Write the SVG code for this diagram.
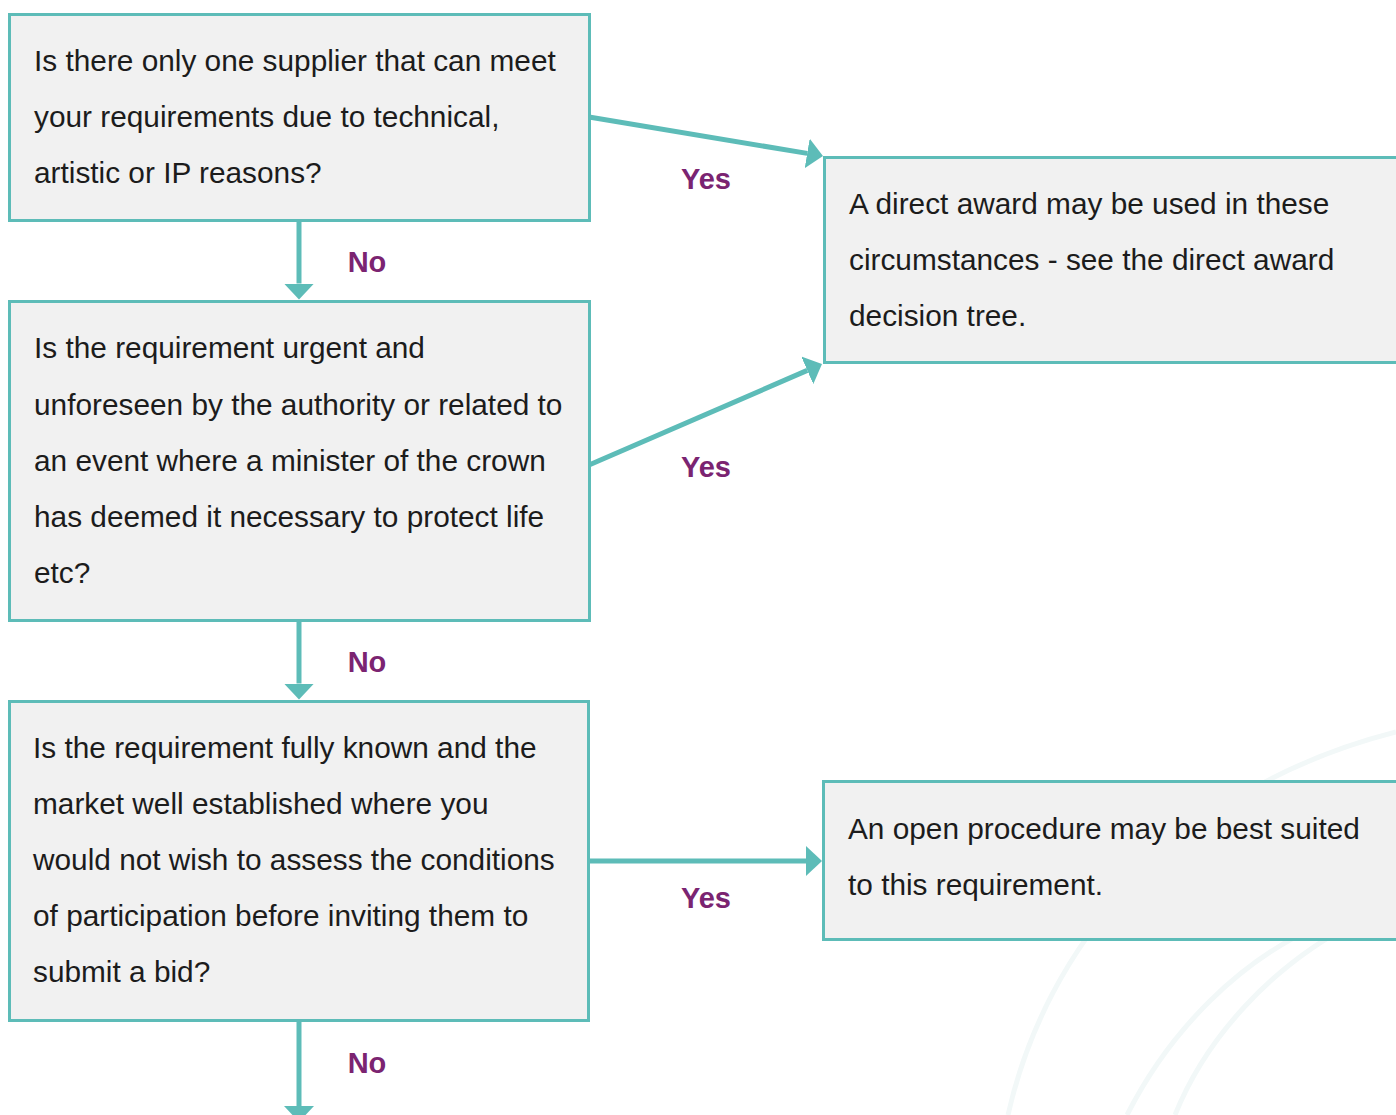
<svg xmlns="http://www.w3.org/2000/svg" width="1396" height="1115" viewBox="0 0 1396 1115">
  <style>
    .box { fill: #f1f1f1; stroke: #5dbcb8; stroke-width: 3; }
    .txt { font-family: "Liberation Sans", Arial, sans-serif; font-size: 29.8px; fill: #1c1c1c; }
    .lbl { font-family: "Liberation Sans", Arial, sans-serif; font-size: 29px; font-weight: bold; fill: #7b2471; text-anchor: middle; }
    .link { fill: none; stroke: #5dbcb8; stroke-width: 5; marker-end: url(#head); }
    .deco { fill: none; stroke: #f2f8f8; stroke-width: 5; }
  </style>
  <defs>
    <marker id="head" markerUnits="userSpaceOnUse" viewBox="0 0 16 30" refX="0" refY="15" markerWidth="16" markerHeight="30" orient="auto">
      <path d="M0,0 L16,15 L0,30 Z" fill="#5dbcb8"/>
    </marker>
  </defs>
  <rect width="1396" height="1115" fill="#ffffff"/>

  <!-- faint decorative swirls -->
  <g id="backdrop">
    <path class="deco" d="M1008,1115 C1045,950 1170,790 1396,732"/>
    <path class="deco" d="M1127,1115 C1170,1030 1240,960 1320,925"/>
    <path class="deco" d="M1175,1115 C1205,1040 1270,965 1360,920"/>
  </g>

  <g id="connectors">
    <path class="link" d="M589,117 L807.2,153.4"/>
    <path class="link" d="M589,465 L807.3,370.4"/>
    <path class="link" d="M589,861 L806,861"/>
    <path class="link" d="M299,221 L299,283.5"/>
    <path class="link" d="M299,621 L299,683.5"/>
    <path class="link" d="M299,1021 L299,1106"/>
    <text class="lbl" x="706" y="189">Yes</text>
    <text class="lbl" x="706" y="477">Yes</text>
    <text class="lbl" x="706" y="908">Yes</text>
    <text class="lbl" x="367" y="272">No</text>
    <text class="lbl" x="367" y="672">No</text>
    <text class="lbl" x="367" y="1073">No</text>
  </g>

  <g id="q-single-supplier">
    <rect class="box" x="9.5" y="14.5" width="580" height="206"/>
    <text class="txt" x="34" y="71">Is there only one supplier that can meet</text>
    <text class="txt" x="34" y="127">your requirements due to technical,</text>
    <text class="txt" x="34" y="183">artistic or IP reasons?</text>
  </g>

  <g id="q-urgent">
    <rect class="box" x="9.5" y="301.5" width="580" height="319"/>
    <text class="txt" x="34" y="358">Is the requirement urgent and</text>
    <text class="txt" x="34" y="415">unforeseen by the authority or related to</text>
    <text class="txt" x="34" y="471">an event where a minister of the crown</text>
    <text class="txt" x="34" y="527">has deemed it necessary to protect life</text>
    <text class="txt" x="34" y="583">etc?</text>
  </g>

  <g id="q-fully-known">
    <rect class="box" x="9.5" y="701.5" width="579" height="319"/>
    <text class="txt" x="33" y="758">Is the requirement fully known and the</text>
    <text class="txt" x="33" y="814">market well established where you</text>
    <text class="txt" x="33" y="870">would not wish to assess the conditions</text>
    <text class="txt" x="33" y="926">of participation before inviting them to</text>
    <text class="txt" x="33" y="982">submit a bid?</text>
  </g>

  <g id="r-direct-award">
    <rect class="box" x="824.5" y="157.5" width="580" height="205"/>
    <text class="txt" x="849" y="214">A direct award may be used in these</text>
    <text class="txt" x="849" y="270">circumstances - see the direct award</text>
    <text class="txt" x="849" y="326">decision tree.</text>
  </g>

  <g id="r-open-procedure">
    <rect class="box" x="823.5" y="781.5" width="580" height="158"/>
    <text class="txt" x="848" y="839">An open procedure may be best suited</text>
    <text class="txt" x="848" y="895">to this requirement.</text>
  </g>
</svg>
